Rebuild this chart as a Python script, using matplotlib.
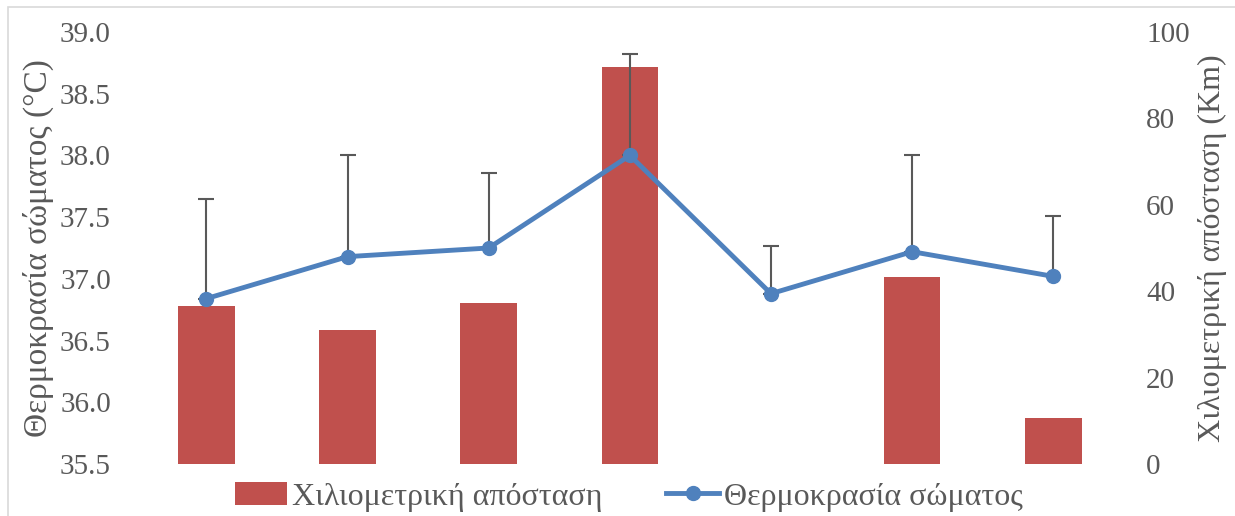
import matplotlib.pyplot as plt
from matplotlib.patches import Rectangle

# values
categories = ["1", "2", "3", "4", "5", "6", "7"]
distance_km = [36.6, 31.1, 37.2, 91.8, 0.0, 43.2, 10.7]
body_temp = [36.84, 37.18, 37.25, 38.00, 36.88, 37.22, 37.02]
temp_err_up = [0.81, 0.82, 0.61, 0.82, 0.39, 0.78, 0.49]

bar_label = "Χιλιομετρική απόσταση"
line_label = "Θερμοκρασία σώματος"
grey = "#595959"

plt.rcParams['font.family'] = ['Liberation Serif', 'DejaVu Serif']

fig = plt.figure(figsize=(12.35, 5.16), dpi=100)
ax_bar = fig.add_axes([0.110, 0.1008, 0.800, 0.8372])
x = list(range(len(categories)))

bars = ax_bar.bar(x, distance_km, width=0.4, color="#C0504D", label=bar_label, zorder=2)
ax_bar.set_ylim(0, 100)
ax_bar.set_yticks([0, 20, 40, 60, 80, 100])
ax_bar.set_xlim(-0.5, len(categories) - 0.5)
ax_bar.set_xticks([])

ax_line = ax_bar.twinx()
ax_line.errorbar(x, body_temp, yerr=[[0] * len(x), temp_err_up], fmt="none",
                 ecolor=grey, elinewidth=1.5, capsize=6, capthick=1.5, zorder=3)
line, = ax_line.plot(x, body_temp, color="#4F81BD", lw=3.5, marker="o",
                     markersize=10, label=line_label, zorder=4)
ax_line.set_ylim(35.5, 39.0)
ax_line.set_yticks([35.5, 36.0, 36.5, 37.0, 37.5, 38.0, 38.5, 39.0])
ax_line.set_yticklabels(["%.1f" % v for v in ax_line.get_yticks()])

# bars on the right axis, temperature on the left (line drawn above bars)
ax_bar.yaxis.tick_right()
ax_bar.yaxis.set_label_position("right")
ax_line.yaxis.tick_left()
ax_line.yaxis.set_label_position("left")
ax_bar.set_ylabel("Χιλιομετρική απόσταση (Km)", fontsize=23, color=grey, labelpad=6)
ax_line.set_ylabel("Θερμοκρασία σώματος (°C)", fontsize=24, color=grey, labelpad=4)

for a in (ax_bar, ax_line):
    for s in a.spines.values():
        s.set_visible(False)
    a.tick_params(axis="x", length=0)
ax_line.tick_params(axis="y", length=0, labelsize=21, labelcolor=grey, pad=18)
ax_bar.tick_params(axis="y", length=0, labelsize=21, labelcolor=grey, pad=16)

fig.legend([bars, line], [bar_label, line_label], loc="center",
           bbox_to_anchor=(0.509, 0.037), ncol=2, frameon=False, fontsize=23,
           labelcolor=grey, handlelength=1.65, handletextpad=0.15, columnspacing=2.0)

fig.patches.append(Rectangle((8 / 1235, -0.1), 1.2, 1.1 - 7 / 516,
                             transform=fig.transFigure, fill=False,
                             edgecolor="#D9D9D9", lw=1.2))

plt.savefig("out.png", dpi=100)
plt.close()
